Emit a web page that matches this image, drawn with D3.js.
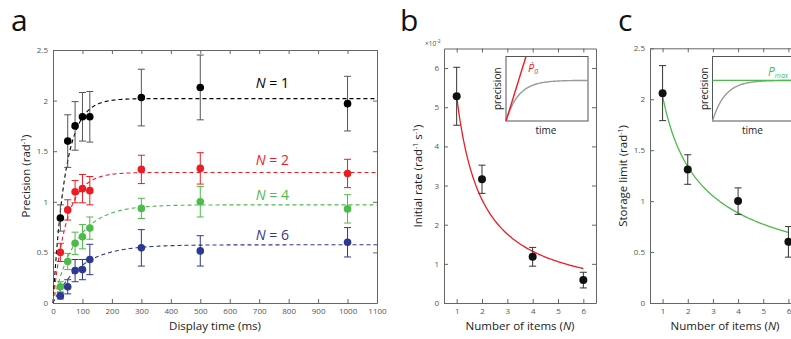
<!DOCTYPE html>
<html>
<head>
<meta charset="utf-8">
<title>Precision vs display time</title>
<script src="https://cdnjs.cloudflare.com/ajax/libs/d3/7.8.5/d3.min.js"></script>
<style>
  body { margin: 0; background: #fff; }
  text { font-family: "Open Sans", "Noto Sans", sans-serif; }
  .tick text { font-size: 8px; fill: #555; }
  .domain, .tick line { stroke: #666; }
</style>
</head>
<body>
<svg width="791" height="339"></svg>
<script>
// ---- panel a : precision vs display time ----
const displayTimes = [25, 50, 75, 100, 125, 300, 500, 1000];
const setLabels = ["1", "2", "4", "6"];
const precN1 = [0.84, 1.60, 1.75, 1.84, 1.84, 2.03, 2.13, 1.97];
const errN1  = [0.13, 0.26, 0.24, 0.24, 0.25, 0.28, 0.32, 0.27];
const precN2 = [0.50, 0.92, 1.10, 1.13, 1.11, 1.32, 1.33, 1.28];
const errN2  = [0.09, 0.10, 0.11, 0.14, 0.14, 0.14, 0.155, 0.14];
const precN4 = [0.16, 0.41, 0.59, 0.655, 0.74, 0.935, 1.00, 0.93];
const errN4  = [0.05, 0.08, 0.11, 0.12, 0.11, 0.10, 0.15, 0.14];
const precN6 = [0.07, 0.16, 0.32, 0.33, 0.43, 0.545, 0.515, 0.60];
const errN6  = [0.03, 0.07, 0.11, 0.10, 0.15, 0.18, 0.15, 0.145];
const fitMax = [2.02, 1.29, 0.97, 0.575];   // plateau of each fitted curve
const fitTau = [42, 47, 80, 95];            // time constant (ms)
const labelY = [2.12, 1.36, 1.02, 0.62];    // where the "N = .." text sits
const colors = ["#000000", "#ec1c24", "#4dbb4a", "#2b3990"];
const errColors = ["#555555", "#ec1c24", "#4dbb4a", "#2b3990"];
const xTicksA = [0, 100, 200, 300, 400, 500, 600, 700, 800, 900, 1000, 1100];
const yTicksA = [0, 0.5, 1, 1.5, 2, 2.5];

// ---- panel b : initial rate vs set size ----
const items = [1, 2, 4, 6];
const rate = [5.28, 3.16, 1.18, 0.585];
const rateErr = [0.74, 0.36, 0.24, 0.20];
const rateFit = [5.28, 1.0];   // a * N^-k
const yTicksB = [0, 1, 2, 3, 4, 5, 6];

// ---- panel c : storage limit vs set size ----
const limit = [2.06, 1.31, 1.00, 0.60];
const limitErr = [0.27, 0.145, 0.13, 0.15];
const limitFit = [2.03, 0.6];  // a * N^-k
const yTicksC = [0, 0.5, 1, 1.5, 2, 2.5];
const xTicksBC = [1, 2, 3, 4, 5, 6];

// insets (schematic)
const insetPlateau = 0.63;
const insetRate = 4.1;

const svg = d3.select("svg");

function frame(x, y, xt, yt) {
  const g = svg.append("g");
  const [x0, x1] = x.range(), [y0, y1] = y.range();
  g.append("g").attr("transform", `translate(0,${y0})`)
    .call(d3.axisBottom(x).tickValues(xt).tickSizeInner(-4).tickSizeOuter(0).tickPadding(5).tickFormat(d3.format("")));
  g.append("g").attr("transform", `translate(${x0},0)`)
    .call(d3.axisLeft(y).tickValues(yt).tickSizeInner(-4).tickSizeOuter(0).tickPadding(5).tickFormat(d3.format("")));
  g.append("g").attr("transform", `translate(0,${y1})`)
    .call(d3.axisTop(x).tickValues(xt).tickSizeInner(-4).tickSizeOuter(0).tickFormat(""));
  g.append("g").attr("transform", `translate(${x1},0)`)
    .call(d3.axisRight(y).tickValues(yt).tickSizeInner(-4).tickSizeOuter(0).tickFormat(""));
  return g;
}

function errorPoints(xs, ys, es, x, y, col, ecol, r) {
  const g = svg.append("g");
  const pts = xs.map((d, i) => ({ x: d, y: ys[i], e: es[i] }));
  const eb = g.selectAll(".eb").data(pts).enter().append("g")
    .attr("stroke", ecol).attr("stroke-width", 1);
  eb.append("line").attr("x1", d => x(d.x)).attr("x2", d => x(d.x))
    .attr("y1", d => y(d.y - d.e)).attr("y2", d => y(d.y + d.e));
  eb.append("line").attr("x1", d => x(d.x) - 3.5).attr("x2", d => x(d.x) + 3.5)
    .attr("y1", d => y(d.y + d.e)).attr("y2", d => y(d.y + d.e));
  eb.append("line").attr("x1", d => x(d.x) - 3.5).attr("x2", d => x(d.x) + 3.5)
    .attr("y1", d => y(d.y - d.e)).attr("y2", d => y(d.y - d.e));
  g.selectAll("circle").data(pts).enter().append("circle")
    .attr("cx", d => x(d.x)).attr("cy", d => y(d.y)).attr("r", r).attr("fill", col);
}

function panelLetter(txt, x, y) {
  svg.append("text").attr("x", x).attr("y", y).attr("font-size", 30).attr("fill", "#111").text(txt);
}

function yTitle(x, cy, parts) {
  const t = svg.append("text").attr("transform", `translate(${x},${cy}) rotate(-90)`)
    .attr("text-anchor", "middle").attr("font-size", 11.5).attr("fill", "#222");
  parts.forEach(p => {
    const s = t.append("tspan").text(p[0]);
    if (p[1] === "sup") s.attr("font-size", 7).attr("baseline-shift", "super");
  });
}

// ================= panel a =================
const xA = d3.scaleLinear().domain([0, 1100]).range([53, 377]);
const yA = d3.scaleLinear().domain([0, 2.5]).range([303, 50]);
const prec = [precN1, precN2, precN4, precN6];
const errs = [errN1, errN2, errN4, errN6];

frame(xA, yA, xTicksA, yTicksA);

const tGrid = d3.range(0, 1101, 2);
prec.forEach((p, s) => {
  const line = d3.line().x(t => xA(t)).y(t => yA(fitMax[s] * (1 - Math.exp(-t / fitTau[s]))));
  svg.append("path").datum(tGrid).attr("d", line).attr("fill", "none")
    .attr("stroke", colors[s]).attr("stroke-width", 1.1).attr("stroke-dasharray", "4,3");
});
prec.forEach((p, s) => errorPoints(displayTimes, p, errs[s], xA, yA, colors[s], errColors[s], 3.8));

setLabels.forEach((n, s) => {
  const t = svg.append("text").attr("x", xA(745)).attr("y", yA(labelY[s]))
    .attr("text-anchor", "middle").attr("font-size", 14)
    .attr("font-family", "Liberation Sans, Arial, sans-serif").attr("fill", colors[s]);
  t.append("tspan").attr("font-style", "italic").text("N");
  t.append("tspan").text(" = " + n);
});

panelLetter("a", 11, 31);
yTitle(30, 176, [["Precision (rad"], ["-1", "sup"], [")"]]);
svg.append("text").attr("x", 215).attr("y", 330).attr("text-anchor", "middle")
  .attr("font-size", 11.5).attr("fill", "#222").text("Display time (ms)");

// ================= panel b =================
const xB = d3.scaleLinear().domain([0.5, 6.5]).range([444, 596]);
const yB = d3.scaleLinear().domain([0, 6.5]).range([303, 48.5]);
frame(xB, yB, xTicksBC, yTicksB);

const nGrid = d3.range(1, 6.001, 0.05);
svg.append("path").datum(nGrid)
  .attr("d", d3.line().x(n => xB(n)).y(n => yB(rateFit[0] * Math.pow(n, -rateFit[1]))))
  .attr("fill", "none").attr("stroke", "#ec1c24").attr("stroke-width", 1.3);
errorPoints(items, rate, rateErr, xB, yB, "#111", "#333", 4);

const xp = svg.append("text").attr("x", 425).attr("y", 46).attr("font-size", 6.5).attr("fill", "#555");
xp.append("tspan").text("\u00d710");
xp.append("tspan").attr("font-size", 5).attr("baseline-shift", "super").text("-2");

panelLetter("b", 400, 31);
yTitle(422, 176, [["Initial rate (rad"], ["-1", "sup"], [" s"], ["-1", "sup"], [")"]]);
const nb = svg.append("text").attr("x", 520).attr("y", 330).attr("text-anchor", "middle")
  .attr("font-size", 11.5).attr("fill", "#222");
nb.append("tspan").text("Number of items (");
nb.append("tspan").attr("font-style", "italic").text("N");
nb.append("tspan").text(")");

// ================= panel c =================
const xC = d3.scaleLinear().domain([0.5, 6.5]).range([650, 801]);
const yC = d3.scaleLinear().domain([0, 2.5]).range([303, 48.3]);
frame(xC, yC, xTicksBC, yTicksC);
svg.append("path").datum(nGrid)
  .attr("d", d3.line().x(n => xC(n)).y(n => yC(limitFit[0] * Math.pow(n, -limitFit[1]))))
  .attr("fill", "none").attr("stroke", "#4dbb4a").attr("stroke-width", 1.3);
errorPoints(items, limit, limitErr, xC, yC, "#111", "#333", 4);

panelLetter("c", 618, 31);
yTitle(627, 176, [["Storage limit (rad"], ["-1", "sup"], [")"]]);
const nc = svg.append("text").attr("x", 725).attr("y", 330).attr("text-anchor", "middle")
  .attr("font-size", 11.5).attr("fill", "#222");
nc.append("tspan").text("Number of items (");
nc.append("tspan").attr("font-style", "italic").text("N");
nc.append("tspan").text(")");

// ================= insets =================
function inset(left, top, w, h) {
  const ix = d3.scaleLinear().domain([0, 1]).range([left, left + w]);
  const iy = d3.scaleLinear().domain([0, 1]).range([top + h, top]);
  const g = svg.append("g");
  g.append("rect").attr("x", left).attr("y", top).attr("width", w).attr("height", h)
    .attr("fill", "#fff").attr("stroke", "#555").attr("stroke-width", 1);
  const grid = d3.range(0, 1.0001, 0.01);
  g.append("path").datum(grid)
    .attr("d", d3.line().x(t => ix(t)).y(t => iy(insetPlateau * (1 - Math.exp(-t * insetRate / insetPlateau)))))
    .attr("fill", "none").attr("stroke", "#999").attr("stroke-width", 1.4);
  g.append("text").attr("transform", `translate(${left - 5},${top + h / 2}) rotate(-90)`)
    .attr("text-anchor", "middle").attr("font-size", 10).attr("fill", "#222").text("precision");
  g.append("text").attr("x", left + w / 2 - 1).attr("y", top + h + 13)
    .attr("text-anchor", "middle").attr("font-size", 10).attr("fill", "#222").text("time");
  return { g, ix, iy };
}

const ib = inset(506, 56.5, 82, 64.5);
ib.g.append("line").attr("x1", ib.ix(0)).attr("y1", ib.iy(0))
  .attr("x2", ib.ix(1 / insetRate)).attr("y2", ib.iy(1))
  .attr("stroke", "#ec1c24").attr("stroke-width", 1.4);
const pd = ib.g.append("text").attr("x", 528).attr("y", 72).attr("fill", "#ec1c24")
  .attr("font-family", "Liberation Serif, serif").attr("font-style", "italic").attr("font-size", 11);
pd.append("tspan").text("\u1E56");
pd.append("tspan").attr("font-size", 7).attr("dy", 2).text("0");

const ic = inset(712.5, 56.5, 82, 64.5);
ic.g.append("line").attr("x1", ic.ix(0)).attr("x2", ic.ix(1))
  .attr("y1", ic.iy(insetPlateau)).attr("y2", ic.iy(insetPlateau))
  .attr("stroke", "#4dbb4a").attr("stroke-width", 1.4);
const pm = ic.g.append("text").attr("x", 768).attr("y", 76).attr("fill", "#4dbb4a")
  .attr("font-family", "Liberation Serif, serif").attr("font-style", "italic").attr("font-size", 12);
pm.append("tspan").text("P");
pm.append("tspan").attr("font-size", 7).attr("dy", 2).text("max");
</script>
</body>
</html>
